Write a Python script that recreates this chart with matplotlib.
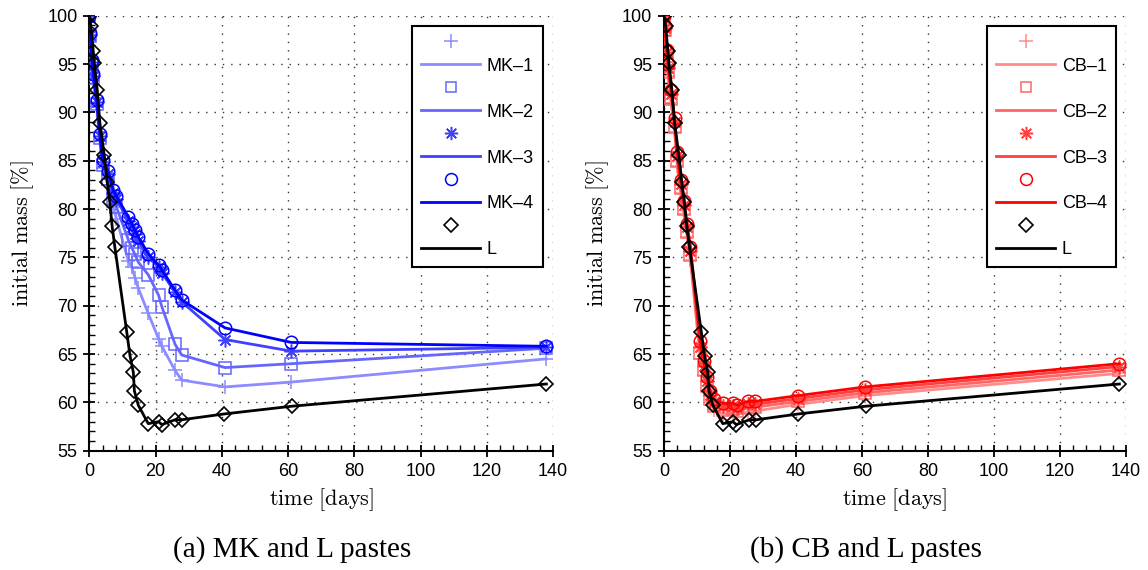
import numpy as np
from matplotlib import pyplot as plt
from matplotlib.ticker import MultipleLocator

plt.rcParams['font.family'] = ['Liberation Sans', 'DejaVu Sans']
plt.rcParams['mathtext.fontset'] = 'cm'

# lime (L) paste, same in both panels
t_L = [0, 0.5, 1.2, 1.5, 2.4, 3.2, 4.5, 5.4, 6.2, 6.9, 7.7, 11.3, 12.3, 13.3,
       13.6, 14.8, 17.8, 20.9, 21.9, 25.9, 27.9, 40.7, 61.1, 138]
m_L = [100, 98.9, 96.3, 95.1, 92.3, 88.9, 85.6, 82.8, 80.7, 78.2, 76.1, 67.3,
       64.8, 63.1, 61.2, 59.7, 57.8, 58.0, 57.7, 58.2, 58.2, 58.8, 59.6, 61.9]

# metakaolin pastes
t_MK = [0, 0.2, 0.8, 1.2, 2.2, 3.2, 4.0, 5.7, 7.2, 8.2, 11.8, 12.8, 13.8,
        14.8, 17.8, 20.9, 21.9, 25.9, 27.9, 41, 61, 138]
m_MK1 = [100, 97.8, 94.8, 93.3, 90.6, 87.0, 84.2, 82.5, 80.2, 79.0, 74.6, 74.0,
         72.9, 71.8, 69.2, 66.6, 65.8, 63.3, 62.3, 61.6, 62.1, 64.5]
m_MK2 = [100, 97.9, 95.0, 93.6, 90.9, 87.4, 84.6, 83.1, 81.0, 80.2, 76.8, 76.0,
         75.3, 74.5, 73.2, 71.1, 69.9, 66.0, 64.9, 63.6, 64.0, 65.6]
m_MK3 = [100, 98.0, 95.2, 93.8, 91.1, 87.6, 84.9, 83.6, 81.7, 81.0, 78.8, 78.1,
         77.4, 76.7, 75.0, 74.0, 73.4, 71.4, 70.4, 66.5, 65.3, 65.7]
m_MK4 = [100, 98.2, 95.4, 94.0, 91.3, 87.8, 85.1, 83.9, 82.0, 81.3, 79.2, 78.5,
         77.8, 77.1, 75.4, 74.2, 73.7, 71.6, 70.6, 67.7, 66.2, 65.8]

# CB pastes
t_CB = [0, 0.2, 0.8, 1.2, 2.2, 3.2, 4.0, 5.0, 6.0, 7.0, 8.0, 11.0, 12.0, 13.0,
        14.0, 15.0, 18.0, 21.0, 22.0, 25.5, 27.6, 40.7, 61, 138]
m_CB1 = [100, 98.3, 95.5, 93.8, 91.0, 88.0, 84.5, 81.7, 79.5, 77.1, 74.7, 64.5,
         62.8, 61.2, 60.0, 59.2, 58.8, 58.9, 58.8, 59.0, 59.1, 59.8, 60.7, 63.0]
m_CB2 = [100, 98.5, 95.8, 94.2, 91.4, 88.5, 85.0, 82.2, 80.0, 77.6, 75.2, 65.1,
         63.3, 61.7, 60.4, 59.6, 59.2, 59.3, 59.1, 59.4, 59.5, 60.1, 61.0, 63.35]
m_CB3 = [100, 98.7, 96.2, 94.6, 91.9, 89.0, 85.5, 82.6, 80.4, 78.1, 75.7, 65.7,
         63.8, 62.2, 60.8, 60.0, 59.6, 59.6, 59.4, 59.8, 59.8, 60.4, 61.3, 63.7]
m_CB4 = [100, 98.9, 96.5, 95.0, 92.3, 89.4, 85.9, 83.0, 80.8, 78.5, 76.1, 66.3,
         64.3, 62.6, 61.2, 60.3, 59.9, 59.9, 59.7, 60.1, 60.1, 60.7, 61.6, 64.0]

markers = ['+', 's', (8, 2, 0), 'o']
msizes = [10, 8, 10, 9]
blues = [(0.55, 0.55, 1), (0.4, 0.4, 1), (0.25, 0.25, 1), (0, 0, 1)]
reds = [(1, 0.55, 0.55), (1, 0.4, 0.4), (1, 0.25, 0.25), (1, 0, 0)]

W, H = 1148, 570
fig = plt.figure(figsize=(W / 100, H / 100), dpi=100)
bot = 1 - 450.7 / H
hgt = 435 / H
ax1 = fig.add_axes([89.3 / W, bot, 463.7 / W, hgt])
ax2 = fig.add_axes([664 / W, bot, 462 / W, hgt])


def panel(ax, t, series, names, colors):
    handles, labels = [], []
    for m, name, c, mk, ms in zip(series, names, colors, markers, msizes):
        ln, = ax.plot(t, m, color=c, lw=2.0, zorder=3)
        mk_h, = ax.plot(t, m, ls='none', marker=mk, ms=ms, mfc='none',
                        mec=c, mew=1.1, zorder=3)
        handles += [mk_h, ln]
        labels += ['', name]
    ln, = ax.plot(t_L, m_L, color='k', lw=2.0, zorder=4)
    mk_h, = ax.plot(t_L, m_L, ls='none', marker='D', ms=7.5, mfc='none',
                    mec='k', mew=1.2, zorder=4)
    handles += [mk_h, ln]
    labels += ['', 'L']

    ax.set_xlim(0, 140)
    ax.set_ylim(55, 100)
    ax.xaxis.set_major_locator(MultipleLocator(20))
    ax.xaxis.set_minor_locator(MultipleLocator(4))
    ax.yaxis.set_major_locator(MultipleLocator(5))
    ax.yaxis.set_minor_locator(MultipleLocator(1))
    ax.tick_params(which='major', direction='inout', length=9, width=1.3,
                   labelsize=13, pad=4)
    ax.tick_params(which='minor', direction='in', length=4, width=1.0)
    for s in ['top', 'right']:
        ax.spines[s].set_visible(False)
    for s in ['left', 'bottom']:
        ax.spines[s].set_linewidth(1.5)
    ax.grid(True, which='major', color='0.2', ls=(0, (1, 5)), lw=1.0)
    ax.set_axisbelow(True)

    ax.set_xlabel(r'$\mathrm{time\ [days]}$', fontsize=16, labelpad=5)
    ax.set_ylabel(r'$\mathrm{initial\ mass\ [\%]}$', fontsize=16, labelpad=8)

    leg = ax.legend(handles, labels, loc='upper right',
                    bbox_to_anchor=(0.978, 0.977), borderaxespad=0,
                    fontsize=13, handlelength=3.3, handletextpad=0.35,
                    labelspacing=0.33, borderpad=0.5, markerscale=0.95,
                    fancybox=False, framealpha=1, edgecolor='k')
    leg.get_frame().set_linewidth(1.5)


panel(ax1, t_MK, [m_MK1, m_MK2, m_MK3, m_MK4],
      ['MK\u20131', 'MK\u20132', 'MK\u20133', 'MK\u20134'], blues)
panel(ax2, t_CB, [m_CB1, m_CB2, m_CB3, m_CB4],
      ['CB\u20131', 'CB\u20132', 'CB\u20133', 'CB\u20134'], reds)

fig.text(292 / W, 1 - 550 / H, '(a) MK and L pastes', ha='center',
         va='center', fontsize=21, family='Liberation Serif')
fig.text(866 / W, 1 - 550 / H, '(b) CB and L pastes', ha='center',
         va='center', fontsize=21, family='Liberation Serif')

plt.savefig('out.png', dpi=100)
